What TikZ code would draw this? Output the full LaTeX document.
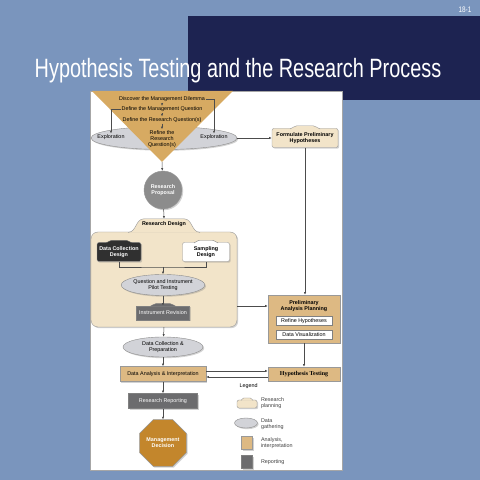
\documentclass[tikz,border=0pt]{standalone}
\usepackage{fontspec}
\setmainfont{Liberation Sans}
\newfontfamily\timesbold{Liberation Serif}
\usepackage{graphicx}
\usepackage{xcolor}
\usepackage{tikz}
\usetikzlibrary{arrows.meta,positioning,shapes.geometric,shadows,calc}
\definecolor{slate}{HTML}{7A95BD}
\definecolor{navy}{HTML}{1D2351}
\definecolor{funnel}{HTML}{D7AA62}
\definecolor{cream}{HTML}{F2E4C9}
\definecolor{sand}{HTML}{DDB983}
\definecolor{mist}{HTML}{D2D3D8}
\definecolor{slab}{HTML}{6C6C6E}
\definecolor{coal}{HTML}{303030}
\definecolor{amber}{HTML}{C3862C}
\newcommand\tinyfont{\fontsize{5.4}{6.2}\selectfont}
\newcommand\bumpon[4]{%
  \filldraw[#2] ($(#1.north)+(-#3,-0.7)$) .. controls ($(#1.north)+(-0.75*#3,0)$) and ($(#1.north)+(-0.8*#3,#4)$) .. ($(#1.north)+(-0.55*#3,#4)$) -- ($(#1.north)+(0.55*#3,#4)$) .. controls ($(#1.north)+(0.8*#3,#4)$) and ($(#1.north)+(0.75*#3,0)$) .. ($(#1.north)+(#3,-0.7)$);}
\tikzset{
  shade/.style={drop shadow={shadow xshift=1.2pt, shadow yshift=-1.2pt, opacity=0.35}},
  planbox/.style={rectangle, draw=black!40, fill=cream, rounded corners=2pt, align=center, font=\tinyfont\bfseries, inner sep=1.5pt, shade},
  gather/.style={ellipse, draw=black!45, fill=mist, align=center, font=\tinyfont, inner sep=0pt, shade},
  analysisbox/.style={rectangle, draw=black!40, fill=sand, align=center, font=\tinyfont, inner sep=1.5pt, shade},
  reportbox/.style={rectangle, draw=black!50, fill=slab, text=white, align=center, font=\tinyfont, inner sep=1.5pt, shade},
  whitebox/.style={rectangle, draw=black!50, fill=white, align=center, font=\tinyfont, inner sep=1pt, minimum width=56pt, minimum height=9pt},
  tritext/.style={font=\tinyfont, inner sep=0.8pt, align=center},
  line/.style={-{Latex[length=2.6pt,width=2.2pt]}, draw=black!70, line width=0.5pt},
  plain/.style={draw=black!70, line width=0.5pt}
}
\begin{document}
\begin{tikzpicture}[x=1pt,y=1pt,node distance=6pt]
  \useasboundingbox (0,0) rectangle (480,480);
  \fill[slate] (0,0) rectangle (480,480);
  \fill[navy] (188,380) rectangle (480,464);
  \node[font=\fontsize{8}{9}\selectfont, text=white, inner sep=0pt] (slideno) at (465,470) {\scalebox{0.8}[1]{18-1}};
  \node[font=\fontsize{26.5}{30}\selectfont, text=white, anchor=base, inner sep=0pt] (title) at (238,402) {\scalebox{0.75}[1]{Hypothesis Testing and the Research Process}};
  \draw[black!35, fill=white] (90,10) rectangle (342,389);

  \node[gather, minimum width=146pt, minimum height=23pt] (explore) at (164,342) {};
  \fill[funnel] (92,389) -- (233,389) -- (162,318) -- cycle;
  \coordinate (apex) at (162,318);
  \node[tritext] (dilemma) at (162,381) {Discover the Management Dilemma};
  \node[tritext] (mq) at (162,370.5) {Define the Management Question};
  \node[tritext] (rq) at (162,360) {Define the Research Question(s)};
  \node[tritext] (refine) at (162,341) {Refine the\\Research\\Question(s)};
  \node[tritext] (explL) at (111,343) {Exploration};
  \node[tritext] (explR) at (214,343) {Exploration};
  \draw[line] (dilemma.east) -| (explR.north);
  \draw[line] (mq.west) -| (explL.north);
  \draw[line] (dilemma) -- (mq);
  \draw[line] (mq) -- (rq);
  \draw[line] (rq) -- (refine);

  \node[planbox, minimum width=66pt, minimum height=19pt] (fph) at (305,342) {Formulate Preliminary\\Hypotheses};
  \bumpon{fph}{fill=cream, draw=black!40, line width=0.4pt}{15}{2.5}
  \draw[line] (explore.east) -- (fph.west);

  \node[circle, draw=black!40, fill=black!45, text=white, font=\tinyfont\bfseries, align=center, minimum size=38pt, inner sep=0pt, shade] (proposal) at (163,290) {Research\\Proposal};
  \draw[line] (apex) -- (proposal);

  \node[rectangle, draw=black!40, fill=cream, rounded corners=7pt, minimum width=146pt, minimum height=95pt, shade] (rd) at (164,200.5) {};
  \bumpon{rd}{fill=cream, draw=black!40, line width=0.4pt}{36}{13}
  \node[font=\tinyfont\bfseries, above=1.5pt of rd.north] (rdlabel) {Research Design};
  \draw[line] (proposal) -- ($(rd.north)+(0,13)$);

  \node[planbox, fill=coal, text=white, minimum width=44pt, minimum height=19pt] (dcd) at (119,228) {Data Collection\\Design};
  \bumpon{dcd}{fill=coal, draw=black!60, line width=0.4pt}{13}{2}
  \node[planbox, fill=white, minimum width=47pt, minimum height=19pt] (sd) at (206,228) {Sampling\\Design};
  \bumpon{sd}{fill=white, draw=black!50, line width=0.4pt}{12}{2}
  \node[gather, minimum width=78pt, minimum height=21pt] (pilot) at (163,195) {Question and Instrument\\Pilot Testing};
  \coordinate (join) at (163,213);
  \draw[plain] (dcd.south) |- (join) -| (sd.south);
  \draw[line] (join) -- (pilot);
  \node[reportbox, minimum width=53pt, minimum height=14pt, below=10pt of pilot] (revise) {Instrument Revision};
  \bumpon{revise}{fill=slab, draw=black!50, line width=0.4pt}{13}{2}
  \draw[line] (pilot) -- (revise);

  \node[gather, minimum width=80pt, minimum height=20pt] (collect) at (163,133) {Data Collection \&\\Preparation};
  \node[analysisbox, minimum width=86pt, minimum height=15pt] (analysis) at (163,106) {Data Analysis \& Interpretation};
  \node[reportbox, minimum width=69pt, minimum height=15pt] (reporting) at (163,79) {Research Reporting};
  \node[regular polygon, regular polygon sides=8, draw=black!40, fill=amber, text=white, font=\tinyfont\bfseries, align=center, minimum size=45pt, inner sep=0pt, shade] (decision) at (163,37) {Management\\Decision};
  \draw[line] (rd.south) -- (collect);
  \draw[line] (collect) -- (analysis);
  \draw[line] (analysis) -- (reporting);
  \draw[line] (reporting) -- (decision);

  \node[analysisbox, minimum width=72pt, minimum height=48pt] (pap) at (304,161) {};
  \node[font=\tinyfont\bfseries, align=center] (paptitle) at (304,174) {Preliminary\\Analysis Planning};
  \node[whitebox] (refinehyp) at (304,159) {Refine Hypotheses};
  \node[whitebox, below=4pt of refinehyp] (dataviz) {Data Visualization};
  \draw[line] (fph) -- (fph |- pap.north);
  \draw[line] (rd.east |- paptitle) -- (pap.west |- paptitle);

  \node[analysisbox, minimum width=72pt, minimum height=14pt, font=\timesbold\fontsize{6}{7}\selectfont\bfseries] (ht) at (304,106) {Hypothesis Testing};
  \draw[line] (pap) -- (ht);
  \draw[line] ([yshift=3pt]analysis.east) -- ([yshift=3pt]ht.west);
  \draw[line] ([yshift=-3pt]ht.west) -- ([yshift=-3pt]analysis.east);

  \node[font=\tinyfont, anchor=west] (legend) at (236,94) {Legend};
  \node[planbox, minimum width=20pt, minimum height=8pt] (keyplan) at (247,76) {};
  \bumpon{keyplan}{fill=cream, draw=black!40, line width=0.4pt}{6}{1.8}
  \node[gather, minimum width=23pt, minimum height=10pt] (keygather) at (246,57) {};
  \node[analysisbox, minimum width=11pt, minimum height=13pt] (keyanalysis) at (247,37) {};
  \node[reportbox, minimum width=11pt, minimum height=13pt] (keyreport) at (247,18) {};
  \node[tritext, align=left, anchor=west, text=black!75] (keyplantext) at (260,77) {Research\\planning};
  \node[tritext, align=left, anchor=west, text=black!75] (keygathertext) at (260,56) {Data\\gathering};
  \node[tritext, align=left, anchor=west, text=black!75] (keyanalysistext) at (260,37) {Analysis,\\interpretation};
  \node[tritext, align=left, anchor=west, text=black!75] (keyreporttext) at (260,18) {Reporting};
\end{tikzpicture}
\end{document}
